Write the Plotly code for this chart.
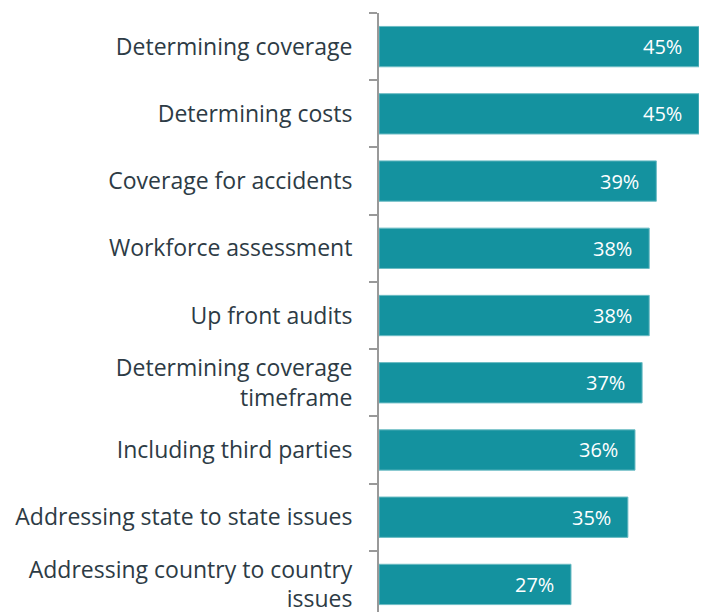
import plotly.graph_objects as go

categories = [
    "Determining coverage",
    "Determining costs",
    "Coverage for accidents",
    "Workforce assessment",
    "Up front audits",
    "Determining coverage<br>timeframe",
    "Including third parties",
    "Addressing state to state issues",
    "Addressing country to country<br>issues",
]
values = [45, 45, 39, 38, 38, 37, 36, 35, 27]
labels = [f"{v}%" for v in values]

barColor = "#14929F"

fig = go.Figure(
    go.Bar(
        x=values,
        y=categories,
        orientation="h",
        marker=dict(color=barColor, line=dict(color="#6cbcc4", width=1)),
        width=0.6,
    )
)

# value labels sit inside the bar end, pulled in a bit from the edge
for cat, v, lab in zip(categories, values, labels):
    fig.add_annotation(
        x=v, y=cat, text=lab, showarrow=False,
        xanchor="right", xshift=-15,
        font=dict(color="white", size=20, family="Open Sans"),
    )

# page body has an 8px margin, so margins are shifted by that amount
fig.update_layout(
    template="none",
    width=709,
    height=612,
    margin=dict(l=371, r=18, t=5, b=8, autoexpand=False),
    plot_bgcolor="white",
    paper_bgcolor="white",
    showlegend=False,
    font=dict(family="Open Sans", color="#2D3B45"),
)
fig.update_xaxes(range=[0, 45], visible=False, automargin=False)
fig.update_yaxes(
    type="category",
    categoryorder="array",
    categoryarray=categories,
    range=[8.41, -0.5],
    automargin=False,
    tickson="boundaries",
    ticks="outside",
    ticklen=8,
    tickcolor="#999999",
    tickwidth=2,
    showline=True,
    linecolor="#999999",
    linewidth=2,
    showgrid=False,
    zeroline=False,
    ticklabelstandoff=20,
    tickfont=dict(size=23, color="#2D3B45", family="Open Sans"),
)

fig.write_html("out.html")
